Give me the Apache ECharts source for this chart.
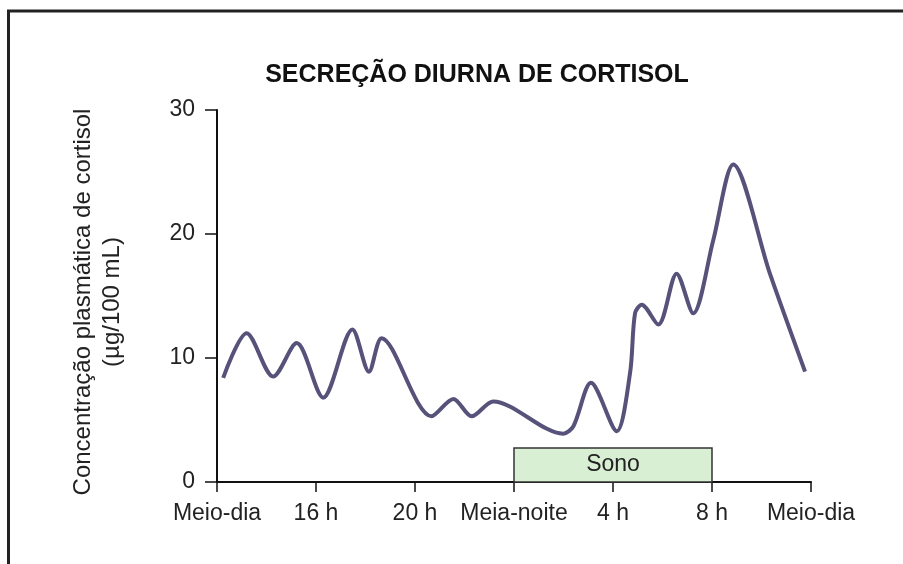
<!DOCTYPE html>
<html>
<head>
<meta charset="utf-8">
<script src="https://cdn.jsdelivr.net/npm/echarts@6/dist/echarts.min.js"></script>
<style>
  html, body { margin: 0; padding: 0; background: #fff; }
  #chart { width: 903px; height: 564px; }
</style>
</head>
<body>
<div id="chart"></div>
<script>
// hours after noon (0 = Meio-dia, 24 = next Meio-dia)
const hours = [0.25, 1.2, 2.27, 3.22, 4.29, 5.47, 6.14, 6.65, 8.67, 9.55, 10.29, 11.16,
  13.99, 14.4, 15.11, 16.15, 16.69, 16.89, 17.16, 17.83, 18.57, 19.24, 20.05, 20.86, 22.34, 23.76]
// plasma cortisol, µg/100 mL
const cortisol = [8.4, 12.0, 8.5, 11.2, 6.8, 12.3, 8.9, 11.6, 5.3, 6.7, 5.3, 6.5,
  3.9, 4.5, 8.0, 4.1, 8.8, 13.6, 14.3, 12.7, 16.8, 13.6, 19.5, 25.6, 16.8, 8.9]
const xTickLabels = ['Meio-dia', '16 h', '20 h', 'Meia-noite', '4 h', '8 h', 'Meio-dia']
const yTicks = [0, 10, 20, 30]
const sleepStart = 12
const sleepEnd = 20
const sleepTop = 2.75

const font = "'Liberation Sans', Arial, sans-serif"
const chart = echarts.init(document.getElementById('chart'))

let option = {
  animation: false,
  grid: { left: 217, right: 92, top: 110, bottom: 82 },
  graphic: [
    {
      type: 'rect',
      shape: { x: 8.5, y: 11, width: 1000, height: 1000 },
      style: { fill: 'none', stroke: '#222', lineWidth: 3 }
    },
    {
      type: 'text',
      x: 477, y: 75,
      style: {
        text: 'SECREÇÃO DIURNA DE CORTISOL',
        font: 'bold 25px ' + font,
        fill: '#111',
        align: 'center',
        verticalAlign: 'middle'
      }
    },
    {
      type: 'text',
      x: 83, y: 302,
      rotation: Math.PI / 2,
      style: {
        text: 'Concentração plasmática de cortisol',
        font: '24px ' + font,
        fill: '#222',
        align: 'center',
        verticalAlign: 'middle'
      }
    },
    {
      type: 'text',
      x: 112, y: 302,
      rotation: Math.PI / 2,
      style: {
        text: '(µg/100 mL)',
        font: '24px ' + font,
        fill: '#222',
        align: 'center',
        verticalAlign: 'middle'
      }
    }
  ],
  xAxis: {
    type: 'value',
    min: 0,
    max: 24,
    interval: 4,
    axisLine: { lineStyle: { color: '#111', width: 2 } },
    axisTick: { length: 10, lineStyle: { color: '#111', width: 1.5 } },
    splitLine: { show: false },
    axisLabel: {
      margin: 20,
      color: '#222',
      fontSize: 23,
      fontFamily: font,
      formatter: v => xTickLabels[v / 4]
    }
  },
  yAxis: {
    type: 'value',
    min: yTicks[0],
    max: yTicks[yTicks.length - 1],
    interval: 10,
    axisLine: { show: true, lineStyle: { color: '#111', width: 2 } },
    axisTick: { show: true, length: 12, lineStyle: { color: '#111', width: 1.5 } },
    splitLine: { show: false },
    axisLabel: {
      margin: 22,
      color: '#222',
      fontSize: 23,
      fontFamily: font
    }
  },
  series: [
    {
      type: 'line',
      data: hours.map((h, i) => [h, cortisol[i]]),
      smooth: 0.3,
      showSymbol: false,
      lineStyle: { color: '#56527a', width: 4 },
      markArea: {
        silent: true,
        itemStyle: { color: '#d8efd4', borderColor: '#333', borderWidth: 1.5 },
        label: {
          show: true,
          position: 'inside',
          color: '#222',
          fontSize: 23,
          fontFamily: font,
          formatter: 'Sono'
        },
        data: [[{ xAxis: sleepStart, yAxis: 0 }, { xAxis: sleepEnd, yAxis: sleepTop }]]
      }
    }
  ]
}
chart.setOption(option)
</script>
</body>
</html>
